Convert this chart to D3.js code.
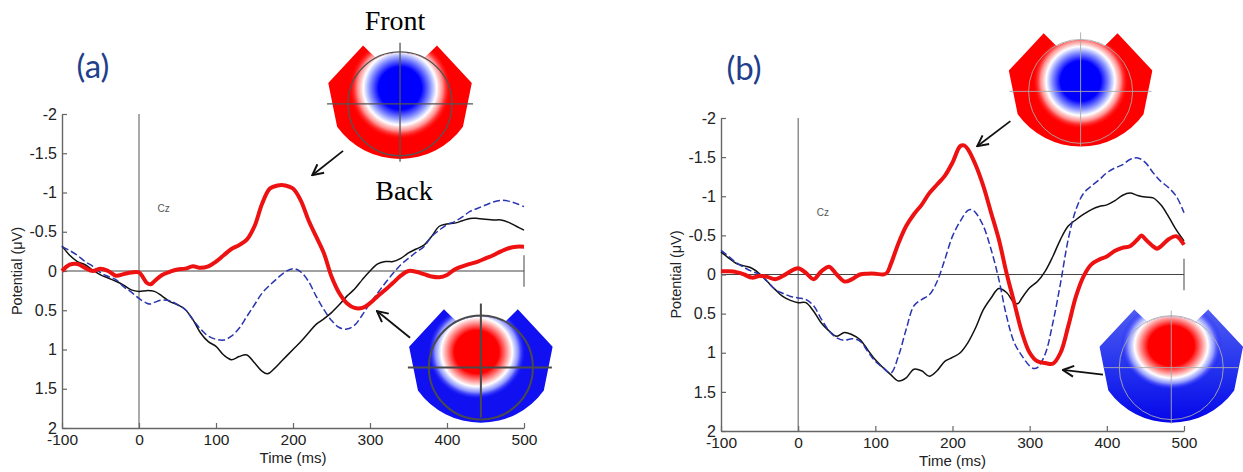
<!DOCTYPE html>
<html>
<head>
<meta charset="utf-8">
<script src="https://cdn.jsdelivr.net/npm/d3@7"></script>
<style>
  body { margin: 0; background: #fff; }
  svg { display: block; }
</style>
</head>
<body>
<svg id="chart" width="1243" height="472"></svg>
<script>
// ticks
const timeTicks = [-100, 0, 100, 200, 300, 400, 500];
const potTicks = [-2, -1.5, -1, -0.5, 0, 0.5, 1, 1.5, 2];

// panel (a) - [time (ms), potential (uV)]
const redA = [[-100,0],[-90,-0.08],[-80,-0.09],[-70,-0.04],[-60,0],[-50,-0.03],[-40,0],[-30,0.06],[-20,0.04],[-10,0.02],[0,0.02],[10,0.15],[15,0.17],[20,0.13],[30,0.05],[40,0.01],[50,-0.02],[60,-0.03],[70,-0.06],[80,-0.04],[90,-0.06],[100,-0.12],[110,-0.2],[120,-0.28],[130,-0.33],[140,-0.4],[150,-0.57],[160,-0.86],[170,-1.05],[180,-1.09],[190,-1.09],[200,-1.05],[210,-0.9],[220,-0.65],[230,-0.44],[240,-0.23],[250,0.07],[260,0.28],[270,0.41],[280,0.47],[290,0.47],[300,0.41],[310,0.32],[320,0.24],[330,0.15],[340,0.06],[350,0],[360,0.01],[370,0.04],[380,0.07],[390,0.08],[400,0.05],[410,-0.02],[420,-0.06],[430,-0.09],[440,-0.12],[450,-0.16],[460,-0.2],[470,-0.25],[480,-0.29],[490,-0.31],[500,-0.31]];
const blackA = [[-100,-0.32],[-90,-0.2],[-80,-0.12],[-70,-0.08],[-60,-0.01],[-50,0.05],[-40,0.09],[-30,0.13],[-20,0.18],[-10,0.24],[0,0.26],[10,0.25],[20,0.26],[30,0.32],[40,0.39],[50,0.43],[60,0.49],[70,0.62],[80,0.79],[90,0.9],[100,0.96],[110,1.07],[120,1.13],[130,1.09],[140,1.07],[150,1.17],[160,1.28],[167,1.31],[175,1.25],[185,1.15],[200,1.0],[210,0.9],[220,0.79],[230,0.68],[240,0.61],[250,0.53],[260,0.43],[270,0.32],[280,0.23],[290,0.11],[300,0],[310,-0.09],[320,-0.12],[330,-0.12],[340,-0.16],[350,-0.23],[360,-0.28],[370,-0.33],[380,-0.44],[390,-0.57],[400,-0.6],[410,-0.61],[420,-0.64],[430,-0.67],[440,-0.67],[450,-0.66],[460,-0.65],[470,-0.65],[480,-0.62],[490,-0.57],[500,-0.52]];
const blueA = [[-100,-0.31],[-90,-0.26],[-80,-0.2],[-70,-0.12],[-60,-0.06],[-50,0.02],[-40,0.07],[-30,0.11],[-20,0.2],[-10,0.27],[0,0.35],[10,0.41],[15,0.42],[20,0.4],[30,0.37],[40,0.38],[50,0.43],[60,0.49],[70,0.62],[80,0.74],[90,0.83],[100,0.87],[110,0.88],[120,0.83],[130,0.73],[140,0.58],[150,0.43],[160,0.28],[170,0.18],[180,0.09],[190,0.01],[200,-0.03],[210,0.01],[220,0.13],[230,0.32],[240,0.49],[250,0.63],[260,0.72],[270,0.74],[280,0.69],[290,0.56],[300,0.41],[310,0.28],[320,0.15],[330,0.03],[340,-0.08],[350,-0.16],[360,-0.24],[370,-0.31],[380,-0.44],[390,-0.52],[400,-0.59],[410,-0.63],[420,-0.69],[430,-0.76],[440,-0.8],[450,-0.84],[460,-0.88],[470,-0.9],[480,-0.89],[490,-0.86],[500,-0.82]];

// panel (b)
const redB = [[-100,-0.04],[-90,-0.04],[-80,-0.03],[-70,0],[-60,0.04],[-50,0.02],[-40,0.03],[-30,0.06],[-20,0.02],[-10,-0.04],[0,-0.08],[10,-0.02],[20,0.06],[30,-0.04],[40,-0.1],[50,0],[60,0.09],[70,0.06],[80,0],[90,-0.01],[100,-0.01],[110,0],[115,-0.02],[120,-0.13],[130,-0.4],[140,-0.62],[150,-0.77],[160,-0.89],[170,-1.04],[180,-1.15],[190,-1.26],[200,-1.43],[210,-1.64],[215,-1.65],[220,-1.6],[230,-1.4],[240,-1.13],[250,-0.79],[260,-0.45],[270,-0.02],[280,0.36],[290,0.74],[300,1.0],[310,1.11],[320,1.13],[330,1.14],[340,1.0],[350,0.66],[360,0.28],[370,0.02],[380,-0.13],[390,-0.19],[400,-0.23],[410,-0.3],[420,-0.34],[430,-0.36],[440,-0.45],[445,-0.5],[450,-0.45],[460,-0.36],[465,-0.33],[470,-0.36],[480,-0.45],[490,-0.49],[495,-0.45],[500,-0.38]];
const blackB = [[-100,-0.29],[-90,-0.21],[-80,-0.14],[-70,-0.11],[-60,-0.08],[-50,-0.01],[-40,0.09],[-30,0.19],[-20,0.28],[-10,0.33],[0,0.36],[10,0.36],[20,0.47],[30,0.62],[40,0.72],[50,0.79],[60,0.74],[70,0.77],[80,0.83],[90,0.96],[100,1.09],[110,1.19],[120,1.28],[130,1.36],[140,1.32],[150,1.21],[160,1.23],[170,1.3],[180,1.23],[190,1.11],[200,1.06],[210,1.0],[220,0.87],[230,0.68],[240,0.45],[250,0.3],[260,0.18],[270,0.23],[280,0.36],[285,0.37],[290,0.3],[300,0.17],[310,0.09],[320,-0.04],[330,-0.23],[340,-0.45],[350,-0.62],[360,-0.7],[370,-0.77],[380,-0.83],[390,-0.87],[400,-0.89],[410,-0.94],[420,-1.01],[430,-1.04],[440,-1.01],[450,-0.99],[460,-0.98],[470,-0.89],[480,-0.74],[490,-0.57],[500,-0.43]];
const blueB = [[-100,-0.31],[-90,-0.23],[-80,-0.15],[-70,-0.09],[-60,-0.04],[-50,0],[-40,0.09],[-30,0.19],[-20,0.24],[-10,0.28],[0,0.3],[10,0.32],[20,0.4],[30,0.57],[40,0.72],[50,0.81],[60,0.84],[70,0.82],[80,0.85],[90,0.98],[100,1.11],[110,1.19],[120,1.26],[130,1.04],[140,0.7],[150,0.4],[160,0.32],[170,0.26],[180,0.09],[190,-0.19],[200,-0.49],[210,-0.68],[220,-0.82],[225,-0.83],[230,-0.79],[240,-0.62],[250,-0.32],[260,0.06],[270,0.53],[280,0.87],[290,1.04],[300,1.17],[305,1.2],[310,1.19],[320,1.02],[330,0.62],[340,0.11],[350,-0.45],[360,-0.83],[370,-1.04],[380,-1.13],[390,-1.21],[400,-1.3],[410,-1.36],[420,-1.4],[430,-1.47],[440,-1.49],[450,-1.43],[460,-1.3],[470,-1.19],[480,-1.11],[490,-1.0],[500,-0.79]];

const svg = d3.select('#chart');
svg.append('rect').attr('width', 1243).attr('height', 472).attr('fill', '#fff');
const defs = svg.append('defs');

// open arrow head
defs.append('marker')
    .attr('id', 'arrow')
    .attr('viewBox', '0 0 12 12')
    .attr('refX', 11).attr('refY', 6)
    .attr('markerWidth', 13).attr('markerHeight', 13)
    .attr('markerUnits', 'userSpaceOnUse')
    .attr('orient', 'auto')
  .append('path')
    .attr('d', 'M1,1 L11,6 L1,11')
    .attr('fill', 'none')
    .attr('stroke', '#111')
    .attr('stroke-width', 1.8);

const panels = [
    {
        left: 62, right: 524, top: 114, bottom: 428,
        label: '(a)', labelPos: [93, 78],
        red: redA, black: blackA, blue: blueA,
        arrows: [[[265, -1.53], [225, -1.22]], [[352, 0.85], [309, 0.51]]],
        topos: [
            {id: 'ta1', at: [339, -2.13], bg: 'red', blob: [0, -0.3, 0.98, 0.98], head: '#555', hw: 1.3, ch: [-73, 73], cv: [-61, 58]},
            {id: 'ta2', at: [444, 1.23], bg: 'blue', blob: [-0.08, -0.3, 0.95, 0.92], head: '#4a4a4a', hw: 2, ch: [-73, 71], cv: [-64, 50]}
        ]
    },
    {
        left: 721, right: 1184, top: 118, bottom: 431,
        label: '(b)', labelPos: [744, 80],
        red: redB, black: blackB, blue: blueB,
        arrows: [[[275, -1.96], [232, -1.64]], [[395, 1.28], [343, 1.22]]],
        topos: [
            {id: 'tb1', at: [366, -2.34], bg: 'red', blob: [0, -0.2, 0.92, 0.92], head: '#aaa', hw: 0.9, ch: [-71, 71], cv: [-59, 55]},
            {id: 'tb2', at: [483.5, 1.19], bg: 'blue2', blob: [0, -0.42, 0.98, 0.86], head: '#aaa', hw: 0.9, ch: [-68, 67], cv: [-57, 56]}
        ]
    }
];

function drawTopo(g, cx, cy, t) {
    const r = 52;
    const shape = `M${-1.38*r},${-0.40*r} L${-0.71*r},${-1.12*r} L${-0.46*r},${-0.87*r}` +
        ` A${r},${r} 0 0 1 ${0.46*r},${-0.87*r} L${0.71*r},${-1.12*r} L${1.38*r},${-0.40*r}` +
        ` L${1.21*r},${0.44*r} A${1.49*r},${1.49*r} 0 0 1 ${-1.21*r},${0.44*r} Z`;

    defs.append('clipPath').attr('id', 'clip-' + t.id)
        .append('path').attr('d', shape);

    const onRed = t.bg === 'red';
    const core = onRed ? '#0000ff' : '#ff0000';
    const edge = onRed ? '#ff0000' : '#0000ff';
    const grad = defs.append('radialGradient').attr('id', 'grad-' + t.id);
    const stops = onRed
        ? [[0, core, 1], [0.42, core, 1], [0.6, '#8d97ff', 1], [0.72, '#ffffff', 1], [0.84, '#ff9c9c', 0.9], [1, edge, 0]]
        : [[0, core, 1], [0.45, core, 1], [0.62, '#ffa0a0', 1], [0.72, '#ffffff', 1], [0.84, '#9aa2ff', 0.9], [1, edge, 0]];
    grad.selectAll('stop').data(stops).enter().append('stop')
        .attr('offset', d => d[0])
        .attr('stop-color', d => d[1])
        .attr('stop-opacity', d => d[2]);

    if (t.bg === 'blue2') {
        const lg = defs.append('linearGradient').attr('id', 'bg-' + t.id)
            .attr('x1', 0).attr('y1', 0).attr('x2', 0).attr('y2', 1);
        lg.append('stop').attr('offset', 0).attr('stop-color', '#5563f2');
        lg.append('stop').attr('offset', 0.55).attr('stop-color', '#2230ee');
        lg.append('stop').attr('offset', 1).attr('stop-color', '#0000e8');
    }

    const tg = g.append('g').attr('transform', `translate(${cx},${cy})`);
    const inner = tg.append('g').attr('clip-path', `url(#clip-${t.id})`);
    inner.append('rect')
        .attr('x', -1.5 * r).attr('y', -1.3 * r)
        .attr('width', 3 * r).attr('height', 2.5 * r)
        .attr('fill', t.bg === 'red' ? '#ff0000' : (t.bg === 'blue2' ? `url(#bg-${t.id})` : '#1010f0'));
    inner.append('ellipse')
        .attr('cx', t.blob[0] * r).attr('cy', t.blob[1] * r)
        .attr('rx', t.blob[2] * r).attr('ry', t.blob[3] * r)
        .attr('fill', `url(#grad-${t.id})`);

    tg.append('circle').attr('r', r)
        .attr('fill', 'none').attr('stroke', t.head).attr('stroke-width', t.hw);
    tg.append('line').attr('x1', t.ch[0]).attr('x2', t.ch[1]).attr('y1', 0).attr('y2', 0)
        .attr('stroke', t.head).attr('stroke-width', t.hw);
    tg.append('line').attr('x1', 0).attr('x2', 0).attr('y1', t.cv[0]).attr('y2', t.cv[1])
        .attr('stroke', t.head).attr('stroke-width', t.hw);
}

function drawPanel(p) {
    const x = d3.scaleLinear().domain([-100, 500]).range([p.left, p.right]);
    const y = d3.scaleLinear().domain([-2, 2]).range([p.top, p.bottom]);
    const g = svg.append('g');

    // time zero marker and baseline
    g.append('line')
        .attr('x1', x(0)).attr('x2', x(0)).attr('y1', y(-2)).attr('y2', y(2))
        .attr('stroke', '#555').attr('stroke-width', 1);
    g.append('line')
        .attr('x1', x(-100)).attr('x2', x(500)).attr('y1', y(0)).attr('y2', y(0))
        .attr('stroke', '#444').attr('stroke-width', 1.1);
    g.append('line')
        .attr('x1', x(500)).attr('x2', x(500)).attr('y1', y(-0.2)).attr('y2', y(0.2))
        .attr('stroke', '#555').attr('stroke-width', 1.1);

    const yAxis = g.append('g')
        .attr('transform', `translate(${p.left},0)`)
        .call(d3.axisLeft(y).tickValues(potTicks).tickFormat(String)
            .tickSizeInner(-5).tickSizeOuter(0).tickPadding(5));
    const xAxis = g.append('g')
        .attr('transform', `translate(0,${p.bottom})`)
        .call(d3.axisBottom(x).tickValues(timeTicks).tickFormat(String)
            .tickSizeInner(-5).tickSizeOuter(0).tickPadding(6));
    [yAxis, xAxis].forEach(a => {
        a.select('.domain').attr('stroke', '#666').attr('stroke-width', 1.4);
        a.selectAll('.tick line').attr('stroke', '#666').attr('stroke-width', 1.2);
        a.selectAll('text')
            .attr('fill', '#222')
            .style('font-family', '"Liberation Sans", Arial, sans-serif');
    });
    yAxis.selectAll('text').style('font-size', '16px');
    xAxis.selectAll('text').style('font-size', '15.5px');

    g.append('text')
        .attr('transform', `translate(${p.left - 40},${(p.top + p.bottom) / 2}) rotate(-90)`)
        .attr('text-anchor', 'middle')
        .attr('fill', '#222')
        .style('font-family', '"Liberation Sans", Arial, sans-serif')
        .style('font-size', '14.5px')
        .text('Potential (\u03bcV)');
    g.append('text')
        .attr('x', (p.left + p.right) / 2).attr('y', p.bottom + 35)
        .attr('text-anchor', 'middle')
        .attr('fill', '#222')
        .style('font-family', '"Liberation Sans", Arial, sans-serif')
        .style('font-size', '15px')
        .text('Time (ms)');
    g.append('text')
        .attr('x', x(32)).attr('y', y(-0.8) + 4)
        .attr('text-anchor', 'middle')
        .attr('fill', '#555')
        .style('font-family', '"Liberation Sans", Arial, sans-serif')
        .style('font-size', '10px')
        .text('Cz');

    g.append('text')
        .attr('x', p.labelPos[0]).attr('y', p.labelPos[1])
        .attr('text-anchor', 'middle')
        .attr('fill', '#1f3e8c')
        .style('font-family', 'Lato, "Open Sans", sans-serif')
        .style('font-size', '33px')
        .text(p.label);

    const line = d3.line()
        .x(d => x(d[0]))
        .y(d => y(d[1]))
        .curve(d3.curveCatmullRom.alpha(0.5));

    g.append('path').datum(p.black).attr('d', line)
        .attr('fill', 'none').attr('stroke', '#111').attr('stroke-width', 1.5);
    g.append('path').datum(p.blue).attr('d', line)
        .attr('fill', 'none').attr('stroke', '#2a35b0').attr('stroke-width', 1.5)
        .attr('stroke-dasharray', '7,3');
    g.append('path').datum(p.red).attr('d', line)
        .attr('fill', 'none').attr('stroke', '#ee1111').attr('stroke-width', 4)
        .attr('stroke-linejoin', 'round');

    p.topos.forEach(t => drawTopo(g, x(t.at[0]), y(t.at[1]), t));

    p.arrows.forEach(a => {
        g.append('line')
            .attr('x1', x(a[0][0])).attr('y1', y(a[0][1]))
            .attr('x2', x(a[1][0])).attr('y2', y(a[1][1]))
            .attr('stroke', '#111').attr('stroke-width', 1.8)
            .attr('marker-end', 'url(#arrow)');
    });
}

panels.forEach(drawPanel);

// orientation labels of the first topomap
svg.append('text')
    .attr('x', 395).attr('y', 30)
    .attr('text-anchor', 'middle')
    .style('font-family', '"Liberation Serif", "Times New Roman", serif')
    .style('font-size', '28px')
    .text('Front');
svg.append('text')
    .attr('x', 404).attr('y', 200)
    .attr('text-anchor', 'middle')
    .style('font-family', '"Liberation Serif", "Times New Roman", serif')
    .style('font-size', '28px')
    .text('Back');
</script>
</body>
</html>
